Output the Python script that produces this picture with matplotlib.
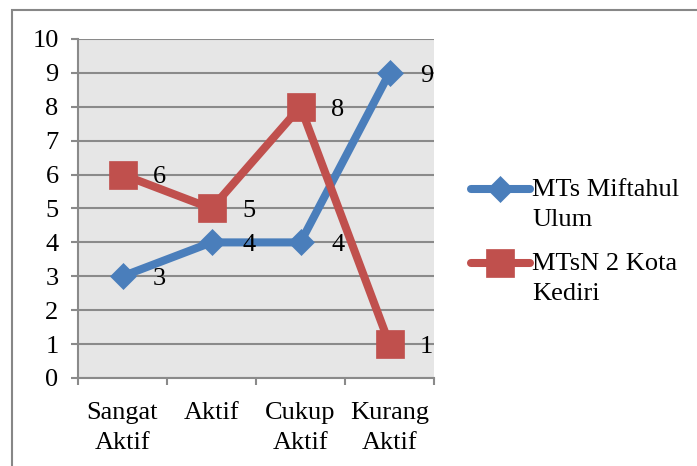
import matplotlib.pyplot as plt
from matplotlib.lines import Line2D
from matplotlib.patches import Rectangle

plt.rcParams['font.family'] = ['Liberation Serif', 'DejaVu Serif']

categories = ['Sangat\nAktif', 'Aktif', 'Cukup\nAktif', 'Kurang\nAktif']
miftahul = [3, 4, 4, 9]
kediri = [6, 5, 8, 1]
series_names = ['MTs Miftahul\nUlum', 'MTsN 2 Kota\nKediri']
blue = '#4a7ebb'
red = '#c0504d'

W, H = 697, 466
fig = plt.figure(figsize=(W / 100, H / 100), dpi=100)

# kotak luar chart
fig.add_artist(Rectangle((12 / W, -0.1), 1.2, (H - 10) / H + 0.1,
                         transform=fig.transFigure, fill=False,
                         edgecolor='#878787', linewidth=1.5))

ax = fig.add_axes([78 / W, (H - 378) / H, (434 - 78) / W, (378 - 39) / H])
ax.set_facecolor('#e6e6e6')

x = range(len(categories))
ax.plot(x, miftahul, color=blue, linewidth=5.8, marker='D', markersize=13.5,
        markeredgewidth=0.5, zorder=3, solid_joinstyle='miter')
ax.plot(x, kediri, color=red, linewidth=5.8, marker='s', markersize=20,
        markeredgewidth=0.5, zorder=3, solid_joinstyle='miter')

# label data
for xi, v in zip(x, miftahul):
    ax.annotate(str(v), (xi, v), xytext=(22, -2), textcoords='offset points',
                ha='left', va='center', fontsize=19, zorder=4)
for xi, v in zip(x, kediri):
    ax.annotate(str(v), (xi, v), xytext=(22, -2), textcoords='offset points',
                ha='left', va='center', fontsize=19, zorder=4)

ax.set_xlim(-0.5, 3.5)
ax.set_ylim(0, 10)
ax.set_yticks(range(0, 11))
ax.yaxis.grid(True, color='#8a8a8a', linewidth=1.5)
ax.set_axisbelow(True)
ax.set_xticks(list(x))
ax.set_xticklabels(categories, fontsize=19, linespacing=1.45)
ax.set_xticks([-0.5, 0.5, 1.5, 2.5, 3.5], minor=True)
ax.tick_params(axis='x', which='major', length=0, pad=17.5)
ax.tick_params(axis='x', which='minor', length=5, width=1.5, color='#8a8a8a')
ax.tick_params(axis='y', length=5, width=1.5, color='#8a8a8a', labelsize=19, pad=9)
for s in ['top', 'right']:
    ax.spines[s].set_visible(False)
for s in ['left', 'bottom']:
    ax.spines[s].set_color('#8a8a8a')
    ax.spines[s].set_linewidth(1.5)

# legenda
for name, col, mk, ms, yy in [(series_names[0], blue, 'D', 13.5, 189),
                              (series_names[1], red, 's', 20, 263)]:
    yf = (H - yy) / H
    fig.add_artist(Line2D([471 / W, 500 / W, 530 / W], [yf, yf, yf],
                          transform=fig.transFigure, color=col, linewidth=5.8,
                          marker=mk, markersize=ms, markevery=[1],
                          markeredgewidth=0.5, solid_capstyle='round'))
    fig.text(532 / W, (H - yy + 10) / H, name, fontsize=19, ha='left',
             va='top', linespacing=1.5)

fig.savefig('out.png', dpi=100)
